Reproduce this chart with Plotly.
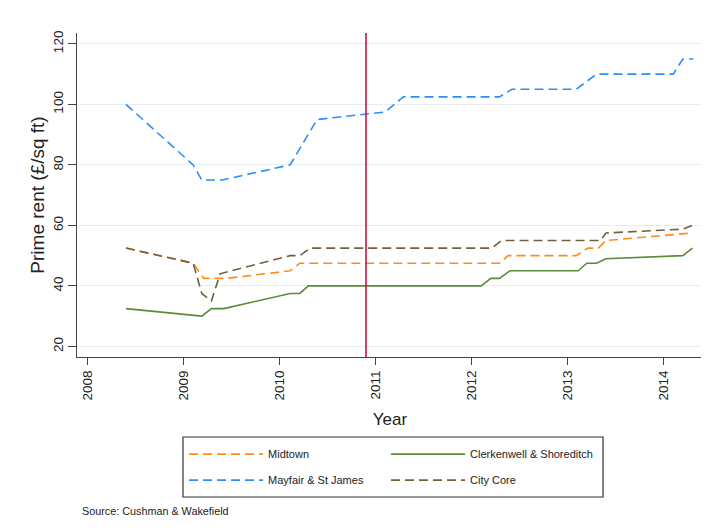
import plotly.graph_objects as go

# ---- data ----
midtown_x = [2008.40, 2009.10, 2009.21, 2009.45, 2010.11, 2010.21, 2012.29, 2012.38, 2013.09, 2013.21, 2013.32, 2013.40, 2014.30]
midtown_y = [52.5, 47.5, 42.5, 42.5, 45, 47.5, 47.5, 50, 50, 52.5, 52.5, 55, 57.5]

clerk_x = [2008.40, 2009.12, 2009.19, 2009.29, 2009.42, 2010.11, 2010.21, 2010.30, 2012.10, 2012.20, 2012.29, 2012.40, 2013.11, 2013.20, 2013.30, 2013.40, 2014.20, 2014.30]
clerk_y = [32.5, 30, 30, 32.5, 32.5, 37.5, 37.5, 40, 40, 42.5, 42.5, 45, 45, 47.5, 47.5, 49, 50, 52.5]

mayfair_x = [2008.40, 2009.10, 2009.19, 2009.40, 2010.11, 2010.39, 2011.10, 2011.29, 2012.29, 2012.42, 2013.09, 2013.30, 2014.10, 2014.20, 2014.31]
mayfair_y = [100, 80, 75, 75, 80, 95, 97.5, 102.5, 102.5, 105, 105, 110, 110, 115, 115]

city_x = [2008.40, 2009.10, 2009.19, 2009.29, 2009.38, 2010.11, 2010.21, 2010.32, 2012.21, 2012.31, 2013.34, 2013.40, 2014.20, 2014.30]
city_y = [52.5, 47.5, 37.5, 35, 44, 50, 50, 52.5, 52.5, 55, 55, 57.5, 58.75, 60]

event_year = 2010.9
x_ticks = [2008, 2009, 2010, 2011, 2012, 2013, 2014]
y_ticks = [20, 40, 60, 80, 100, 120]

FONT = "Liberation Sans, Arial, sans-serif"
DASH = "9px,5px"
TXT = "#222222"

fig = go.Figure()
fig.add_trace(go.Scatter(x=midtown_x, y=midtown_y, mode="lines", name="Midtown",
                         line=dict(color="#ff8c1a", width=1.6, dash=DASH),
                         legend="legend", legendgroup="a"))
fig.add_trace(go.Scatter(x=clerk_x, y=clerk_y, mode="lines", name="Clerkenwell & Shoreditch",
                         line=dict(color="#5b8a3c", width=1.6),
                         legend="legend2", legendgroup="b"))
fig.add_trace(go.Scatter(x=mayfair_x, y=mayfair_y, mode="lines", name="Mayfair & St James",
                         line=dict(color="#2a8eff", width=1.6, dash=DASH),
                         legend="legend", legendgroup="c"))
fig.add_trace(go.Scatter(x=city_x, y=city_y, mode="lines", name="City Core",
                         line=dict(color="#735f3f", width=1.6, dash=DASH),
                         legend="legend2", legendgroup="d"))

fig.add_vline(x=event_year, line=dict(color="#d0103c", width=1.6))

# legend frame
fig.add_shape(type="rect", xref="paper", yref="paper",
              x0=0.1693, x1=0.8403, y0=-0.4321, y1=-0.2469,
              line=dict(color="#333333", width=1.2), fillcolor="rgba(0,0,0,0)")

fig.add_annotation(text="Source: Cushman & Wakefield", xref="paper", yref="paper",
                   x=0.0048, y=-0.475, xanchor="left", yanchor="middle", showarrow=False,
                   font=dict(size=10.8, color=TXT, family=FONT))

legend_common = dict(orientation="v", bgcolor="rgba(0,0,0,0)", borderwidth=0,
                     font=dict(size=11, color=TXT, family=FONT),
                     tracegroupgap=7, xanchor="left", yanchor="top", itemwidth=74)

fig.update_layout(
    width=701, height=523,
    margin=dict(l=69, r=6, t=25, b=174),
    paper_bgcolor="white", plot_bgcolor="white",
    font=dict(family=FONT, color=TXT),
    showlegend=True,
    legend=dict(x=0.171, y=-0.255, **legend_common),
    legend2=dict(x=0.4936, y=-0.255, **legend_common),
    xaxis=dict(range=[2007.89, 2014.41], tickvals=x_ticks, ticktext=[str(v) for v in x_ticks],
               tickangle=-90, ticks="outside", ticklen=7, tickcolor="#444444",
               showline=True, linecolor="#444444", linewidth=1.2, mirror=False,
               showgrid=False, zeroline=False,
               tickfont=dict(size=13.5, color=TXT, family=FONT),
               title=dict(text="Year", font=dict(size=17, color=TXT, family=FONT), standoff=13)),
    yaxis=dict(range=[16.5, 123.6], tickvals=y_ticks, tickangle=-90,
               ticks="outside", ticklen=8, tickcolor="#444444",
               showline=True, linecolor="#444444", linewidth=1.2,
               showgrid=True, gridcolor="#e8eef0", gridwidth=1, zeroline=False,
               tickfont=dict(size=13.5, color=TXT, family=FONT),
               title=dict(text="Prime rent (£/sq ft)", font=dict(size=19, color=TXT, family=FONT), standoff=0)),
)

fig.write_html("out.html")
